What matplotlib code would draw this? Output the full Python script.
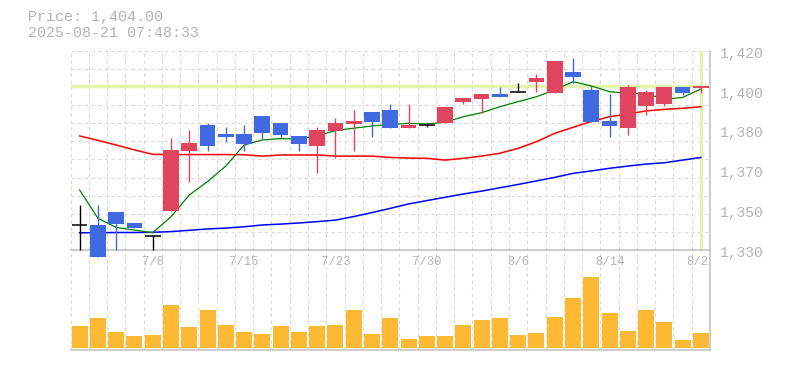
import matplotlib
matplotlib.use("Agg")
import matplotlib.pyplot as plt
import matplotlib.transforms as mtransforms
from matplotlib.patches import Rectangle
import numpy as np

# ---------------- data ----------------
dates = ["7/2", "7/3", "7/4", "7/7", "7/8", "7/9", "7/10", "7/11", "7/14", "7/15",
         "7/16", "7/17", "7/18", "7/22", "7/23", "7/24", "7/25", "7/28", "7/29", "7/30",
         "7/31", "8/1", "8/4", "8/5", "8/6", "8/7", "8/8", "8/12", "8/13", "8/14",
         "8/15", "8/18", "8/19", "8/20", "8/21"]
label_dates = ["7/8", "7/15", "7/23", "7/30", "8/6", "8/14", "8/21"]

opens = [1341.3, 1341.3, 1347.2, 1342.2, 1336.2, 1347.8, 1374.9, 1386.4, 1382.4, 1382.4,
         1390.5, 1387.3, 1381.5, 1377.1, 1383.9, 1387.0, 1392.3, 1393.2, 1385.2, 1386.4,
         1387.2, 1396.8, 1398.2, 1400.4, 1401.2, 1405.9, 1401.0, 1410.4, 1402.2, 1388.3,
         1385.2, 1395.2, 1396.1, 1403.6, 1403.0]
highs = [1350.3, 1350.3, 1347.2, 1342.2, 1336.2, 1380.7, 1384.2, 1387.5, 1385.4, 1386.4,
         1390.5, 1387.3, 1381.5, 1385.4, 1389.5, 1393.2, 1392.3, 1395.8, 1395.8, 1387.2,
         1394.6, 1398.6, 1400.4, 1403.8, 1405.6, 1409.5, 1415.3, 1416.7, 1404.2, 1400.4,
         1404.4, 1402.2, 1403.6, 1403.6, 1404.0]
lows = [1330.0, 1327.0, 1330.0, 1340.1, 1330.0, 1347.8, 1360.9, 1374.9, 1378.9, 1374.9,
        1380.3, 1381.0, 1374.9, 1364.9, 1371.4, 1374.9, 1381.2, 1385.2, 1385.2, 1385.4,
        1387.2, 1395.9, 1392.0, 1399.2, 1401.2, 1401.5, 1401.0, 1405.3, 1388.0, 1381.2,
        1382.1, 1391.1, 1395.2, 1400.0, 1401.0]
closes = [1341.3, 1327.0, 1341.9, 1340.1, 1336.2, 1375.2, 1378.3, 1377.0, 1381.2, 1378.0,
          1383.0, 1382.1, 1378.0, 1384.2, 1387.3, 1388.2, 1387.9, 1385.2, 1386.4, 1386.4,
          1394.6, 1398.6, 1400.4, 1399.2, 1401.2, 1407.7, 1415.3, 1408.3, 1388.0, 1386.1,
          1403.6, 1401.3, 1403.6, 1401.0, 1404.0]

ma_short = [1357.1, 1344.3, 1340.2, 1339.0, 1337.8, 1345.0, 1354.8, 1360.9, 1367.9, 1377.4,
            1379.7, 1380.3, 1380.1, 1381.6, 1383.9, 1385.0, 1386.0, 1386.7, 1387.2, 1386.9,
            1387.7, 1390.2, 1392.0, 1394.7, 1397.0, 1399.2, 1402.3, 1406.0, 1404.1, 1401.5,
            1400.7, 1400.7, 1398.0, 1398.9, 1402.7]
ma_mid = [1381.5, 1379.5, 1377.4, 1375.2, 1373.2, 1373.1, 1373.1, 1373.1, 1373.1, 1373.0,
          1372.4, 1372.9, 1372.9, 1372.9, 1372.4, 1372.4, 1372.4, 1371.8, 1371.5, 1371.4,
          1370.6, 1371.4, 1372.4, 1373.7, 1375.9, 1378.9, 1382.7, 1385.4, 1388.0, 1390.2,
          1391.4, 1392.8, 1393.5, 1394.0, 1394.7]
ma_long = [1337.8, 1337.8, 1337.9, 1337.9, 1338.0, 1338.3, 1338.9, 1339.5, 1339.9, 1340.5,
           1341.3, 1341.7, 1342.2, 1342.8, 1343.5, 1345.1, 1346.9, 1348.8, 1350.8, 1352.3,
           1353.8, 1355.3, 1356.6, 1358.1, 1359.6, 1361.2, 1362.8, 1364.6, 1365.7, 1366.9,
           1367.9, 1368.8, 1369.4, 1370.6, 1371.8]

volumes = [21700, 29700, 15700, 11700, 12700, 42700, 20700, 37700, 22700, 15700,
           13700, 21700, 15700, 21700, 22700, 37700, 13700, 29700, 8700, 11700,
           11700, 22700, 27700, 29700, 12700, 14700, 30700, 49700, 70700, 34700,
           16700, 37700, 25700, 7700, 14700]

current_price = 1404.0
title_line1 = "Price: 1,404.00"
title_line2 = "2025-08-21 07:48:33"

ytick_values = [1420, 1402, 1384, 1366, 1348, 1330]
ytick_labels = ["1,420", "1,400", "1,380", "1,370", "1,350", "1,330"]

# ---------------- style ----------------
W, H = 785, 370
UP = "#e0445e"
DOWN = "#4169e1"
DOJI = "#000000"
VOLC = "#fdb933"
HILITE = "#e4f3ae"
GRIDC = "#d9d9d9"
SPINEC = "#c0c0c0"
TEXTC = "#b4b4b4"
MONO = ["Liberation Mono", "DejaVu Sans Mono"]

fig = plt.figure(figsize=(W / 100, H / 100), dpi=100)
fig.patch.set_facecolor("white")

left_px, right_px = 70.5, 710.0
p_top, p_bot = 50.7, 250.0
v_top, v_bot = 250.0, 350.0

ax = fig.add_axes([left_px / W, 1 - p_bot / H, (right_px - left_px) / W, (p_bot - p_top) / H])
axv = fig.add_axes([left_px / W, 1 - v_bot / H, (right_px - left_px) / W, (v_bot - v_top) / H])

n = len(dates)
x = np.arange(n)

for a in (ax, axv):
    a.set_xlim(-0.5, n - 0.5)
    a.set_facecolor("none")
    a.set_axisbelow(True)
    a.spines["top"].set_visible(False)
    a.spines["left"].set_visible(False)
    a.spines["right"].set_color(SPINEC)
    a.spines["bottom"].set_color(SPINEC)
    a.spines["right"].set_linewidth(1.1)
    a.spines["bottom"].set_linewidth(1.1)
    a.set_xticks([])
    a.set_yticks([])
    a.set_xticks(np.arange(-0.5, n), minor=True)
    a.tick_params(which="both", length=0, labelbottom=False, labelleft=False)
    a.grid(which="minor", axis="x", color=GRIDC, linestyle=(0, (3, 3)), linewidth=0.8)

ymin, ymax = 1330, 1420
ax.set_ylim(ymin, ymax)
ax.set_yticks(np.linspace(ymin, ymax, 12), minor=True)
ax.grid(which="minor", axis="y", color=GRIDC, linestyle=(0, (3, 3)), linewidth=0.8)

# highlight lines
ax.axhline(current_price, color=HILITE, linewidth=2.4, zorder=1)
ax.axvline(x[-1], color=HILITE, linewidth=2.2, zorder=1, ymin=0.005, ymax=1.0)

# moving averages
ax.plot(x, ma_long, color="#0000ff", linewidth=1.1, zorder=3)
ax.plot(x, ma_mid, color="#ff0000", linewidth=1.1, zorder=3)
ax.plot(x, ma_short, color="#008000", linewidth=0.9, zorder=3)

# candles
bw = 0.86
for i in range(n):
    o, h, l, c = opens[i], highs[i], lows[i], closes[i]
    if c > o:
        col = UP
    elif c < o:
        col = DOWN
    else:
        col = DOJI
    ax.vlines(x[i], l, h, color=col, linewidth=1.0, zorder=4, clip_on=False)
    if col == DOJI:
        ax.hlines(o, x[i] - bw / 2, x[i] + bw / 2, color=col, linewidth=1.1, zorder=5, clip_on=False)
    else:
        ax.add_patch(Rectangle((x[i] - bw / 2, min(o, c)), bw, abs(c - o), facecolor=col,
                               edgecolor="none", zorder=5, clip_on=False))

# right-side price labels
for v, lab in zip(ytick_values, ytick_labels):
    ax.annotate(lab, xy=(1, v), xycoords=("axes fraction", "data"),
                xytext=(10.0 * 0.72, -3.0 * 0.72), textcoords="offset points",
                ha="left", va="center", color=TEXTC, fontsize=10.5, family=MONO,
                annotation_clip=False)

# volume
axv.bar(x, volumes, width=0.875, color=VOLC, zorder=2)
vmax = max(volumes)
axv.set_ylim(-vmax * 2.3 / 70.7, vmax * 97.7 / 70.7)

# date labels
blend = mtransforms.blended_transform_factory(axv.transData, axv.transAxes)
for lab in label_dates:
    i = dates.index(lab)
    axv.text(x[i], 0.883, lab, transform=blend, ha="center", va="center",
             color=TEXTC, fontsize=8.8, family=MONO, clip_on=True)

# title
fig.text(27.5 / W, 1 - 17.5 / H, title_line1, ha="left", va="center", color=TEXTC,
         fontsize=10.8, family=MONO)
fig.text(27.5 / W, 1 - 33.0 / H, title_line2, ha="left", va="center", color=TEXTC,
         fontsize=10.8, family=MONO)

fig.savefig("out.png", dpi=100, facecolor="white")
